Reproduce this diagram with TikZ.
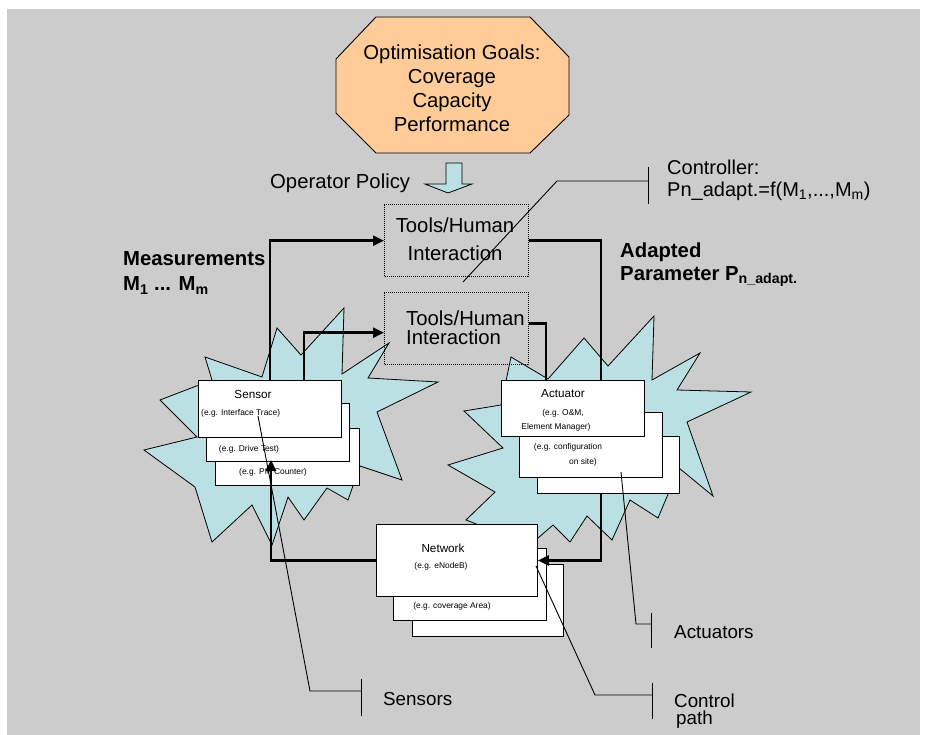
\documentclass[tikz,border=0pt]{standalone}
\usepackage{fontspec}
\setmainfont{Liberation Sans}
\usetikzlibrary{arrows.meta,calc}
\definecolor{bgray}{RGB}{204,204,204}
\definecolor{peach}{RGB}{255,204,153}
\definecolor{cyanb}{RGB}{187,224,227}
\newcommand{\fsz}[2]{\fontsize{#1}{#2}\selectfont}
\begin{document}
\begin{tikzpicture}[x=1pt,y=-1pt,
  burst/.style={fill=cyanb,draw=black,line width=0.8pt,line join=miter},
  stackbox/.style={draw=black,fill=white,line width=0.9pt,inner sep=0pt,anchor=north west},
  dotbox/.style={draw=black,dash pattern=on 1.1pt off 0.9pt,line width=1.3pt,inner sep=0pt,anchor=north west},
  conn/.style={draw=black,line width=2.5pt},
  tipped/.style={-{Triangle[length=11pt,width=10pt]}},
  calloutline/.style={draw=black,line width=0.9pt},
  bigtxt/.style={font=\fsz{20.3}{24},inner sep=0pt,text=black},
  boldtxt/.style={font=\fsz{20.3}{24}\bfseries,inner sep=0pt,text=black},
  lbltxt/.style={font=\fsz{18.8}{16},inner sep=0pt,text=black},
  midtxt/.style={font=\fsz{11.7}{14},inner sep=0pt,text=black},
  smalltxt/.style={font=\fsz{8.4}{10},inner sep=0pt,text=black}
]
\useasboundingbox (0,0) rectangle (928,735);
% background
\fill[bgray] (7,9) rectangle (920,735);

% octagon
\draw[fill=peach,draw=black,line width=0.9pt]
  (376,17) -- (530,17) -- (569,57) -- (569,115) -- (530,153) -- (376,153) -- (336,113) -- (336,59) -- cycle;
\node[bigtxt,align=center] (goals) at (452,88) {Optimisation Goals:\\Coverage\\Capacity\\Performance};

% block arrow
\draw[fill=cyanb,draw=black,line width=0.8pt]
  (446,163) -- (462,163) -- (462,184) -- (472,184) -- (448,193) -- (425,184) -- (446,184) -- cycle;
\node[bigtxt,anchor=west] (op) at (270,183) {Operator Policy};

% starbursts
\draw[burst] (344,308) -- (342,374) -- (389,343) -- (368,378) -- (438,382) -- (377,412)
  -- (402,480) -- (360,466) -- (348,500) -- (327,488) -- (304,520) -- (288,497)
  -- (272,545) -- (252,505) -- (212,542) -- (195,487) -- (144,450) -- (197,437)
  -- (160,400) -- (212,380) -- (205,357) -- (262,377) -- (277,328) -- (301,355) -- cycle;
\draw[burst] (654,316) -- (652,380) -- (700,353) -- (677,390) -- (751,392) -- (687,422)
  -- (713,496) -- (679,468) -- (658,518) -- (630,500) -- (612,540) -- (587,516)
  -- (570,542) -- (553,525) -- (530,545) -- (466,520) -- (495,492) -- (448,465)
  -- (503,448) -- (464,411) -- (501,405) -- (511,357) -- (548,379) -- (584,338)
  -- (608,366) -- cycle;

% tool boxes
\node[dotbox,minimum width=144pt,minimum height=72pt] (t1) at (384,204) {};
\node[dotbox,minimum width=144pt,minimum height=72pt] (t2) at (384,292) {};
\node[bigtxt,align=center,font=\fsz{20.3}{28}] (t1txt) at (455,239) {Tools/Human\\ Interaction};
\node[bigtxt,align=left,anchor=west,font=\fsz{20.3}{19}] (t2txt) at (406,328) {Tools/Human\\Interaction};

% network stack
\node[stackbox,minimum width=151pt,minimum height=72pt] (nC) at (412,564) {};
\node[stackbox,minimum width=153pt,minimum height=72pt] (nB) at (393,548) {};
\node[stackbox,minimum width=161pt,minimum height=72pt] (nA) at (376,524) {};

% connection points on the sensor and actuator box tops
\coordinate (sAn1) at (270,380);
\coordinate (sAn2) at (304,380);
\coordinate (aAn1) at (546,380);
\coordinate (aAn2) at (601,380);

% thick connectors behind boxes
\draw[conn,tipped] (sAn1) |- (t1.west);
\draw[conn,tipped] (sAn2) |- ([yshift=-4pt]t2.west);
\draw[conn] ([yshift=5pt]t2.east) -| (aAn1);
\draw[conn,tipped] (t1.east) -| (aAn2) |- (nA.east);

% sensor stack
\node[stackbox,minimum width=144pt,minimum height=57pt] (sC) at (215,428) {};
\node[stackbox,minimum width=143pt,minimum height=58pt] (sB) at (206,403) {};
\node[stackbox,minimum width=143pt,minimum height=57pt] (sA) at (198,380) {};

% actuator stack
\node[stackbox,minimum width=142pt,minimum height=57pt] (aC) at (537,436) {};
\node[stackbox,minimum width=143pt,minimum height=65pt] (aB) at (519,412) {};
\node[stackbox,minimum width=143pt,minimum height=56pt] (aA) at (501,380) {};

% box texts
\node[midtxt] (sT) at (253,394) {Sensor};
\node[smalltxt,anchor=west] (sT1) at (201,413) {(e.g. Interface Trace)};
\node[smalltxt] (sT2) at (249,449) {(e.g. Drive Test)};
\node[smalltxt] (sT3) at (273,472) {(e.g. PM Counter)};
\node[midtxt] (aT) at (563,394) {Actuator};
\node[smalltxt] (aT1) at (563,413) {(e.g. O\&M,};
\node[smalltxt] (aT2) at (556,427) {Element Manager)};
\node[smalltxt] (aT3) at (568,447) {(e.g. configuration};
\node[smalltxt] (aT4) at (583,462) {on site)};
\node[midtxt] (nT) at (443,548) {Network};
\node[smalltxt] (nT1) at (441,566) {(e.g. eNodeB)};
\node[smalltxt] (nT2) at (452,606) {(e.g. coverage Area)};

% feedback into sensors (on top of boxes)
\coordinate (sIn) at (271,460);
\draw[conn,tipped] (nA.west) -| (sIn);

% callouts
\coordinate (ctlS) at (463,282);
\coordinate (ctlK) at (557,181);
\coordinate (ctlB) at (648,181);
\draw[calloutline] (ctlS) -- (ctlK) -- (ctlB);
\draw[calloutline] ([yshift=14pt]ctlB) -- ([yshift=-23pt]ctlB);
\node[font=\fsz{20}{22},inner sep=0pt,anchor=west,align=left] (ctl) at (667,180) {Controller:\\Pn\_adapt.=f(M\textsubscript{1},...,M\textsubscript{m})};

\coordinate (senS) at (258,416);
\coordinate (senK) at (310,691);
\coordinate (senB) at (361,691);
\draw[calloutline] (senS) -- (senK) -- (senB);
\draw[calloutline] ([yshift=12pt]senB) -- ([yshift=-25pt]senB);
\node[lbltxt,anchor=west] (sens) at (383,699) {Sensors};

\coordinate (actS) at (621,472);
\coordinate (actK) at (636,624);
\coordinate (actB) at (651,624);
\draw[calloutline] (actS) -- (actK) -- (actB);
\draw[calloutline] ([yshift=11pt]actB) -- ([yshift=-24pt]actB);
\node[lbltxt,anchor=west] (acts) at (674,632) {Actuators};

\coordinate (cpS) at (536,566);
\coordinate (cpK) at (595,695);
\coordinate (cpB) at (652,695);
\draw[calloutline] (cpS) -- (cpK) -- (cpB);
\draw[calloutline] ([yshift=12pt]cpB) -- ([yshift=-24pt]cpB);
\node[lbltxt,anchor=base west] (cp1) at (674,707) {Control};
\node[lbltxt,anchor=base west] (cp2) at (676,724) {path};

% side labels
\node[boldtxt,anchor=west,align=left,font=\fsz{20.3}{25}\bfseries] (meas) at (123,273) {Measurements\\M\textsubscript{1} ... M\textsubscript{m}};
\node[boldtxt,anchor=west,align=left,font=\fsz{20.3}{23}\bfseries] (adp) at (620,265) {Adapted\\Parameter P\textsubscript{n\_adapt.}};
\end{tikzpicture}
\end{document}
